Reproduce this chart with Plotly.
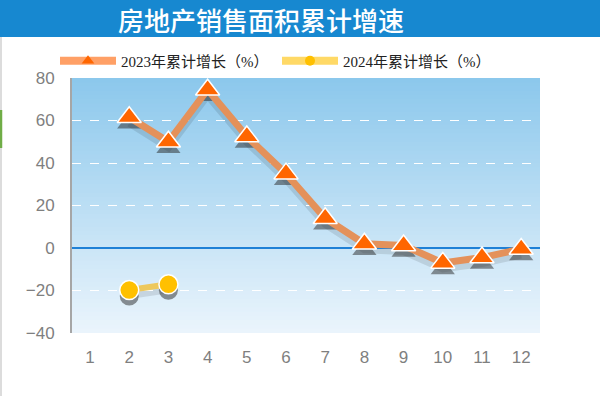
import plotly.graph_objects as go

months = list(range(1, 13))
tick_labels = [str(m) for m in months]
growth_2023 = [None, 61.5, 50, 74.5, 52.5, 35, 14, 2, 1.2, -7, -4.5, -0.5]
growth_2024 = [None, -19.8, -17.1, None, None, None, None, None, None, None, None, None]
name_2023 = "2023年累计增长（%）"
name_2024 = "2024年累计增长（%）"
title_text = "房地产销售面积累计增速"
y_ticks = [-40, -20, 0, 20, 40, 60, 80]

W, H = 600, 396
SHADOW_DY = 6  # px
ML, MR, MT, MB = 72, 60, 78, 63 - SHADOW_DY
PW, PH = W - ML - MR, H - MT - MB

x_range = [0.54, 12.48]
y_range = [-40, 80]

fig = go.Figure()

# shadow traces (main xy subplot, shifted down a few px)
fig.add_trace(go.Scatter(x=months, y=growth_2023, mode="lines+markers", xaxis="x", yaxis="y",
                         line=dict(color="rgba(0,0,0,0.10)", width=7),
                         marker=dict(symbol="triangle-up", size=21, color="rgba(40,40,40,0.5)"),
                         showlegend=False, hoverinfo="skip"))
fig.add_trace(go.Scatter(x=months, y=growth_2024, mode="lines+markers", xaxis="x", yaxis="y",
                         line=dict(color="rgba(0,0,0,0.10)", width=6),
                         marker=dict(symbol="circle", size=19, color="rgba(40,40,40,0.5)"),
                         showlegend=False, hoverinfo="skip"))

# real traces
fig.add_trace(go.Scatter(x=months, y=growth_2023, mode="lines+markers", xaxis="x2", yaxis="y2",
                         line=dict(color="#e4915a", width=7),
                         marker=dict(symbol="triangle-up", size=21, color="#ff6600",
                                     line=dict(color="white", width=1.5)),
                         showlegend=False, name=name_2023))
fig.add_trace(go.Scatter(x=months, y=growth_2024, mode="lines+markers", xaxis="x2", yaxis="y2",
                         line=dict(color="#edc85c", width=6),
                         marker=dict(symbol="circle", size=19, color="#ffc000",
                                     line=dict(color="white", width=1.5)),
                         showlegend=False, name=name_2024))

# legend entries
fig.add_trace(go.Scatter(x=[None], y=[None], mode="lines+markers", xaxis="x2", yaxis="y2",
                         name=name_2023, legend="legend",
                         line=dict(color="#ffa066", width=8),
                         marker=dict(symbol="triangle-up", size=11, color="#ff6600")))
fig.add_trace(go.Scatter(x=[None], y=[None], mode="lines+markers", xaxis="x2", yaxis="y2",
                         name=name_2024, legend="legend2",
                         line=dict(color="#ffd966", width=8),
                         marker=dict(symbol="circle", size=10, color="#ffc000")))

shapes = []
# gradient plot background (stacked from the bottom to avoid seams)
top = (140, 200, 236)
bot = (234, 244, 252)
N = 60
g0 = SHADOW_DY / PH
for i in range(N):
    f = i / (N - 1)
    c = tuple(round(top[k] + (bot[k] - top[k]) * f) for k in range(3))
    y1 = 1 - (1 - g0) * i / N
    shapes.append(dict(type="rect", xref="paper", yref="paper", x0=0, x1=1, y0=g0, y1=y1,
                       fillcolor="rgb(%d,%d,%d)" % c, line=dict(width=0), layer="below"))
# title bar
shapes.append(dict(type="rect", xref="paper", yref="paper",
                   x0=-ML / PW, x1=(W - ML) / PW, y0=1 + (MT - 37) / PH, y1=1 + MT / PH,
                   fillcolor="#1788d0", line=dict(width=0), layer="below"))
# left border decoration
shapes.append(dict(type="line", xref="paper", yref="paper",
                   x0=-(ML - 1) / PW, x1=-(ML - 1) / PW, y0=-MB / PH, y1=1 + (MT - 37) / PH,
                   line=dict(color="#dcdcdc", width=2), layer="below"))
shapes.append(dict(type="line", xref="paper", yref="paper",
                   x0=-(ML - 1) / PW, x1=-(ML - 1) / PW, y0=1 - (110 - MT) / PH, y1=1 - (148 - MT) / PH,
                   line=dict(color="#70ad47", width=2.5), layer="below"))

tick_font = dict(family="Liberation Sans, Arial, sans-serif", size=17, color="#7f7f7f")
legend_font = dict(family="Liberation Serif, Noto Sans CJK SC, serif", size=15, color="#222222")

fig.update_layout(
    width=W, height=H,
    margin=dict(l=ML, r=MR, t=MT, b=MB, autoexpand=False),
    paper_bgcolor="white",
    plot_bgcolor="rgba(0,0,0,0)",
    shapes=shapes,
    title=dict(text=title_text, xref="container", yref="container", x=0.435, xanchor="center",
               y=1 - 22 / H, yanchor="middle",
               font=dict(family="Noto Sans CJK SC, sans-serif", size=26, color="white", weight=500)),
    xaxis=dict(domain=[0, 1], range=x_range, visible=False, anchor="y", fixedrange=True),
    yaxis=dict(domain=[0, 1 - SHADOW_DY / PH], range=y_range, visible=False, anchor="x", fixedrange=True),
    xaxis2=dict(domain=[0, 1], range=x_range, anchor="y2", tickmode="array", tickvals=months,
                ticktext=tick_labels, showgrid=False, zeroline=False, showline=False,
                ticks="", tickfont=tick_font, ticklabelstandoff=12, fixedrange=True),
    yaxis2=dict(domain=[SHADOW_DY / PH, 1], range=y_range, anchor="x2", tickmode="array",
                tickvals=y_ticks, showgrid=True, gridcolor="white", griddash="dash", gridwidth=1,
                zeroline=True, zerolinecolor="#1f80d6", zerolinewidth=2,
                showline=True, linecolor="#a6a6a6", linewidth=2,
                ticks="", tickfont=tick_font, ticklabelstandoff=12, fixedrange=True),
    legend=dict(xref="container", yref="container", x=55 / W, xanchor="left",
                y=1 - 61 / H, yanchor="middle", orientation="h", font=legend_font,
                bgcolor="rgba(0,0,0,0)", itemwidth=56),
    legend2=dict(xref="container", yref="container", x=277 / W, xanchor="left",
                 y=1 - 61 / H, yanchor="middle", orientation="h", font=legend_font,
                 bgcolor="rgba(0,0,0,0)", itemwidth=56),
)

fig.write_html("out.html", config={"displayModeBar": False},
               post_script="document.body.style.margin='0';")
